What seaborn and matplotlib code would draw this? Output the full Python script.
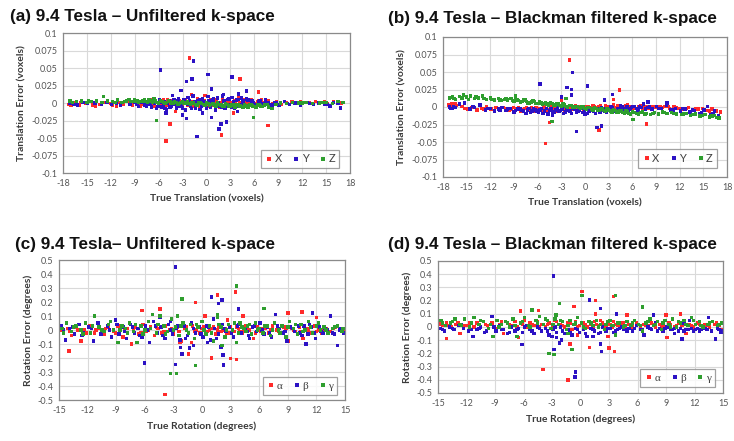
import pandas as pd
import seaborn as sns
import matplotlib.pyplot as plt

# ---- (a) translation, unfiltered : (true translation, error) in voxels
a_X = [(-17.3,-0.002),(-17.0,-0.003),(-16.7,-0.002),(-16.4,0.000),(-15.8,0.001),(-15.2,-0.001),(-14.3,-0.003),(-13.9,-0.004),
       (-13.4,-0.002),(-12.6,0.001),(-11.8,-0.003),(-11.3,-0.004),(-10.9,0.001),(-10.4,-0.002),(-9.8,0.002),(-9.3,-0.003),
       (-8.9,0.001),(-8.3,-0.004),(-7.9,0.003),(-7.5,-0.002),(-7.1,0.004),(-6.7,-0.003),(-6.4,0.002),(-6.0,-0.005),
       (-5.6,0.003),(-5.2,-0.001),(-4.9,0.004),(-4.5,-0.004),(-4.1,0.002),(-3.8,-0.006),(-3.4,0.003),(-3.0,-0.002),
       (-2.7,0.005),(-2.3,-0.003),(-1.9,0.002),(-1.5,-0.005),(-1.1,0.006),(-0.7,-0.002),(-0.3,0.003),(0.1,-0.004),
       (0.5,0.005),(0.9,-0.003),(1.2,0.002),(1.6,-0.006),(2.0,0.004),(2.4,-0.002),(2.8,0.006),(3.2,-0.004),
       (3.6,0.003),(4.0,0.007),(4.4,-0.003),(4.8,0.004),(5.2,-0.001),(5.6,0.005),(6.0,-0.003),(6.4,0.002),
       (6.9,0.004),(7.3,-0.002),(7.8,0.003),(8.3,-0.001),(8.8,0.002),(9.4,-0.002),(10.0,0.001),(10.7,0.002),
       (11.4,-0.001),(12.2,0.001),(12.9,0.000),(13.7,0.002),(14.5,0.001),(15.1,-0.001),(15.9,0.002),(16.6,0.000),
       (17.1,0.001),(-2.1,0.064),(4.2,0.034),(6.5,0.016),(-4.6,-0.030),(-5.1,-0.054),(1.9,-0.046),(7.7,-0.032),
       (-1.9,0.012),(-0.2,0.011),(3.4,-0.014),(-3.9,-0.012)]
a_X_more = [(-8.6,0.000),(-8.1,-0.002),(-7.7,0.001),(-7.3,0.002),(-6.9,-0.001),(-6.5,-0.004),(-6.1,0.001),(-5.8,-0.002),
            (-5.4,0.004),(-5.0,-0.003),(-4.7,0.001),(-4.3,0.003),(-3.9,-0.001),(-3.6,0.002),(-3.2,-0.004),(-2.8,0.001),
            (-2.5,-0.001),(-2.1,0.003),(-1.7,-0.003),(-1.3,0.001),(-0.9,-0.004),(-0.5,0.004),(-0.1,0.000),(0.3,-0.002),
            (0.7,0.002),(1.0,0.004),(1.4,-0.001),(1.8,0.001),(2.2,-0.004),(2.6,0.003),(3.0,0.001),(3.4,-0.002),
            (3.8,0.005),(4.2,0.001),(4.6,-0.002),(5.0,0.002),(5.4,0.005),(5.8,0.001),(6.2,-0.001),(6.6,0.003),
            (7.1,0.001),(7.6,0.002),(8.1,-0.002),(-16.0,-0.003),(-12.0,-0.001),(11.8,0.002),(14.8,0.002),(16.9,-0.001)]
a_Y = [(-17.2,-0.001),(-16.9,0.000),(-16.6,-0.002),(-16.2,-0.003),(-15.5,0.001),(-14.9,-0.001),(-14.0,0.000),(-13.2,-0.002),
       (-12.5,0.001),(-11.9,-0.002),(-11.3,0.000),(-10.8,-0.003),(-10.2,0.002),(-9.6,-0.002),(-9.0,0.001),(-8.5,-0.005),
       (-8.0,0.003),(-7.5,-0.004),(-7.1,-0.002),(-6.6,0.002),(-6.3,-0.008),(-5.9,0.004),(-5.6,-0.006),(-5.3,0.002),
       (-5.0,-0.010),(-4.7,0.003),(-4.4,-0.004),(-4.1,0.005),(-3.8,-0.008),(-3.5,0.006),(-3.2,-0.005),(-2.9,0.002),
       (-2.6,-0.010),(-2.3,0.008),(-2.0,-0.004),(-1.7,0.010),(-1.4,-0.007),(-1.1,0.003),(-0.8,-0.009),(-0.5,0.006),
       (-0.2,-0.003),(0.2,0.009),(0.5,-0.006),(0.8,0.004),(1.1,-0.010),(1.4,0.007),(1.7,-0.004),(2.0,0.010),
       (2.3,-0.007),(2.6,0.005),(2.9,-0.003),(3.2,0.008),(3.5,-0.008),(3.8,0.004),(4.1,-0.005),(4.4,0.007),
       (4.7,-0.002),(5.0,0.006),(5.3,-0.006),(5.7,0.003),(6.1,-0.004),(6.5,0.002),(6.9,-0.003),(7.4,0.004),
       (7.9,-0.002),(8.5,0.001),(9.1,-0.003),(9.8,0.002),(10.4,-0.002),(11.1,0.000),(11.8,-0.003),(12.6,0.001),
       (13.4,-0.002),(14.1,0.000),(14.8,-0.002),(15.5,-0.004),(15.9,0.001),(16.5,-0.001),(16.8,-0.007),
       (-5.75,0.047),(-1.65,0.060),(-2.5,0.031),(-1.8,0.034),(0.2,0.041),(3.2,0.037),(-3.2,0.018),(0.6,0.020),
       (5.0,0.017),(-1.2,-0.048),(1.55,-0.037),(1.8,-0.030),(2.5,-0.027),(0.65,-0.021),(-2.5,-0.022),(-3.0,-0.017),
       (-5.1,-0.014),(-4.3,0.011),(2.1,0.012),(4.0,0.013),(-0.5,-0.014),(3.9,-0.012)]
a_Y_more = [(-8.7,-0.002),(-8.2,0.001),(-7.8,-0.003),(-7.3,0.001),(-6.9,-0.006),(-6.5,-0.001),(-6.1,-0.005),(-5.8,0.001),
            (-5.4,-0.003),(-5.2,-0.008),(-4.9,0.000),(-4.6,-0.006),(-4.2,-0.002),(-3.9,0.003),(-3.7,-0.004),(-3.3,0.000),
            (-3.0,-0.007),(-2.8,0.004),(-2.4,-0.002),(-2.1,0.003),(-1.9,-0.008),(-1.5,0.002),(-1.2,-0.002),(-0.9,0.004),
            (-0.6,-0.005),(-0.3,0.002),(0.0,-0.007),(0.3,0.003),(0.6,-0.002),(0.9,0.006),(1.2,-0.004),(1.5,0.001),
            (1.9,-0.006),(2.2,0.003),(2.5,-0.004),(2.8,0.006),(3.1,-0.006),(3.4,0.002),(3.7,-0.002),(4.0,0.005),
            (4.3,-0.003),(4.6,0.003),(4.9,-0.004),(5.2,0.004),(5.5,-0.002),(5.9,0.000),(6.3,-0.002),(6.7,0.003),
            (7.2,-0.001),(7.7,0.001),(8.2,-0.003),(8.8,0.000),(10.1,-0.001),(13.0,-0.001),(15.2,-0.002)]
a_Z = [(-17.1,0.003),(-16.8,0.001),(-16.3,0.002),(-15.7,0.003),(-15.0,0.001),(-14.4,0.002),(-13.8,0.003),(-13.1,0.001),
       (-12.4,0.003),(-11.8,0.002),(-11.2,0.004),(-10.6,0.001),(-10.0,0.003),(-9.5,0.002),(-9.0,0.004),(-8.5,0.001),
       (-8.0,0.003),(-7.6,0.002),(-7.2,0.004),(-6.8,0.001),(-6.4,0.003),(-6.0,0.000),(-5.6,0.002),(-5.2,-0.001),
       (-4.8,0.003),(-4.4,0.000),(-4.0,0.002),(-3.6,-0.002),(-3.2,0.001),(-2.8,-0.001),(-2.4,0.002),(-2.0,-0.002),
       (-1.6,0.000),(-1.2,-0.003),(-0.8,0.001),(-0.4,-0.002),(0.0,0.000),(0.4,-0.003),(0.8,-0.001),(1.2,-0.004),
       (1.6,-0.002),(2.0,-0.005),(2.4,-0.001),(2.8,-0.004),(3.2,-0.002),(3.6,-0.006),(4.0,-0.003),(4.4,-0.005),
       (4.8,-0.002),(5.2,-0.006),(5.6,-0.003),(6.0,-0.005),(6.4,-0.002),(6.8,-0.004),(7.3,-0.003),(7.8,-0.006),
       (8.2,-0.008),(8.7,-0.002),(9.3,0.000),(10.0,-0.001),(10.8,0.001),(11.6,0.000),(12.5,0.001),(13.3,-0.001),
       (14.2,0.000),(15.0,0.001),(15.8,-0.001),(16.5,0.002),(17.1,0.001),
       (-12.9,0.009),(-6.3,-0.025),(5.9,-0.021),(-9.7,0.005),(-6.6,0.006)]
a_Z_more = [(-9.2,0.002),(-8.7,0.003),(-8.2,0.002),(-7.8,0.004),(-7.4,0.001),(-7.0,0.003),(-6.6,0.002),(-6.2,0.001),
            (-5.8,0.003),(-5.4,0.001),(-5.0,0.001),(-4.6,0.002),(-4.2,-0.001),(-3.8,0.001),(-3.4,-0.001),(-3.0,0.002),
            (-2.6,0.000),(-2.2,-0.001),(-1.8,0.001),(-1.4,-0.002),(-1.0,0.000),(-0.6,-0.001),(-0.2,-0.003),(0.2,-0.001),
            (0.6,-0.002),(1.0,-0.003),(1.4,0.000),(1.8,-0.003),(2.2,-0.004),(2.6,-0.002),(3.0,-0.005),(3.4,-0.003),
            (3.8,-0.002),(4.2,-0.004),(4.6,-0.006),(5.0,-0.004),(5.4,-0.002),(5.8,-0.004),(6.2,-0.006),(6.6,-0.003),
            (7.0,-0.005),(7.6,-0.002),(-14.8,0.003),(-11.5,0.001),(-10.3,0.002),(12.0,0.000),(14.6,0.001)]

# ---- (b) translation, Blackman filtered
b_X = [(-17.3,0.003),(-17.1,0.001),(-16.9,0.004),(-16.6,-0.001),(-16.3,0.002),(-15.6,0.001),(-14.9,-0.003),(-14.3,-0.001),
       (-13.7,-0.004),(-13.1,-0.002),(-12.5,0.000),(-11.9,-0.003),(-11.3,-0.001),(-10.7,-0.004),(-10.1,-0.002),(-9.6,-0.005),
       (-9.1,-0.001),(-8.6,-0.003),(-8.1,-0.006),(-7.6,-0.002),(-7.2,-0.004),(-6.8,-0.001),(-6.4,-0.005),(-6.0,-0.002),
       (-5.6,-0.004),(-5.2,0.000),(-4.8,-0.006),(-4.4,-0.002),(-4.0,-0.004),(-3.6,-0.001),(-3.2,-0.005),(-2.8,-0.002),
       (-2.4,0.001),(-2.0,-0.004),(-1.6,-0.001),(-1.2,0.002),(-0.8,-0.003),(-0.4,0.000),(0.0,-0.002),(0.4,0.001),
       (0.8,-0.004),(1.2,0.000),(1.6,-0.002),(2.0,0.002),(2.4,-0.003),(2.8,0.000),(3.2,-0.002),(3.6,0.003),
       (4.0,-0.001),(4.4,0.001),(4.8,-0.003),(5.2,0.002),(5.6,-0.001),(6.0,0.001),(6.5,-0.002),(7.0,0.002),
       (7.5,0.000),(8.0,-0.002),(8.5,0.001),(9.0,-0.001),(9.5,0.000),(10.1,0.001),(10.7,-0.002),(11.3,0.000),
       (11.9,-0.002),(12.5,-0.003),(13.1,-0.001),(13.7,-0.004),(14.3,-0.003),(14.9,-0.002),(15.5,-0.005),(16.1,-0.003),
       (16.7,-0.006),(17.2,-0.007),
       (-2.0,0.067),(4.35,0.024),(-4.5,-0.022),(-5.0,-0.052),(1.8,-0.033),(7.8,-0.024),(-3.0,0.009),(3.6,0.011)]
b_X_more = [(-16.5,0.004),(-15.3,-0.002),(-12.8,-0.003),(-10.4,-0.001),(-9.3,-0.003),(-8.4,-0.001),(-7.9,-0.004),(-7.4,-0.001),
            (-6.9,-0.003),(-6.6,-0.006),(-6.2,-0.001),(-5.8,-0.003),(-5.4,-0.005),(-5.0,-0.002),(-4.6,-0.004),(-4.2,0.000),
            (-3.8,-0.003),(-3.4,-0.006),(-3.0,-0.002),(-2.6,-0.004),(-2.2,-0.001),(-1.8,-0.003),(-1.4,0.000),(-1.0,-0.002),
            (-0.6,0.001),(-0.2,-0.003),(0.2,0.000),(0.6,-0.002),(1.0,0.002),(1.4,-0.001),(1.8,0.001),(2.2,-0.002),
            (2.6,0.002),(3.0,-0.001),(3.4,0.001),(3.8,-0.002),(4.2,0.002),(4.6,-0.001),(5.0,0.001),(5.4,0.003),
            (5.8,0.000),(6.2,-0.002),(6.8,0.001),(7.3,-0.002),(7.8,0.001),(8.3,-0.001),(8.8,0.001),(9.8,-0.001),
            (10.5,0.001),(11.6,-0.001),(12.8,-0.002),(14.0,-0.002),(15.8,-0.006)]
b_Y = [(-17.2,0.000),(-17.0,-0.002),(-16.7,0.001),(-16.4,-0.001),(-15.9,0.004),(-15.3,0.006),(-14.6,-0.003),(-14.0,-0.001),
       (-13.3,0.003),(-12.6,-0.004),(-12.0,-0.002),(-11.5,-0.006),(-11.0,-0.003),(-10.5,-0.001),(-10.0,-0.005),(-9.5,-0.002),
       (-9.0,-0.007),(-8.5,-0.003),(-8.0,-0.005),(-7.5,-0.009),(-7.1,-0.002),(-6.7,-0.006),(-6.3,-0.004),(-5.9,-0.008),
       (-5.5,-0.002),(-5.1,-0.006),(-4.7,-0.010),(-4.3,-0.003),(-3.9,-0.007),(-3.5,-0.001),(-3.1,-0.005),(-2.7,-0.009),
       (-2.3,-0.003),(-1.9,-0.006),(-1.5,-0.002),(-1.1,-0.007),(-0.7,-0.004),(-0.3,-0.008),(0.1,-0.003),(0.5,-0.006),
       (0.9,-0.002),(1.3,-0.009),(1.7,-0.004),(2.1,-0.001),(2.5,-0.006),(2.9,-0.003),(3.3,0.001),(3.7,-0.005),
       (4.1,-0.002),(4.5,0.002),(4.9,-0.004),(5.3,0.000),(5.7,-0.003),(6.1,0.001),(6.5,-0.002),(6.9,0.000),
       (7.4,0.004),(7.9,-0.001),(8.5,-0.003),(9.1,0.001),(9.7,-0.002),(10.3,0.003),(10.9,-0.004),(11.5,-0.002),
       (12.1,-0.006),(12.7,-0.003),(13.3,-0.007),(13.9,-0.005),(14.5,-0.009),(15.1,-0.004),(15.5,0.001),(15.9,-0.011),
       (16.4,-0.006),(16.9,-0.012),
       (-5.7,0.033),(-1.6,0.049),(-2.3,0.028),(-1.7,0.025),(0.3,0.030),(3.5,0.018),(-1.7,0.017),(-1.1,-0.035),
       (1.5,-0.029),(2.1,-0.027),(-3.0,0.014),(0.0,-0.011),(2.5,0.010),(-4.1,-0.012),(10.4,0.006),(8.0,0.007)]
b_Y_more = [(-16.8,-0.002),(-14.2,0.001),(-12.3,-0.002),(-10.8,-0.005),(-9.8,-0.003),(-8.8,-0.005),(-8.2,-0.002),(-7.8,-0.006),
            (-7.3,-0.004),(-6.9,-0.008),(-6.5,-0.003),(-6.1,-0.006),(-5.7,-0.004),(-5.3,-0.009),(-4.9,-0.002),(-4.5,-0.005),
            (-4.1,-0.008),(-3.7,-0.004),(-3.3,-0.006),(-2.9,-0.003),(-2.5,-0.007),(-2.1,-0.005),(-1.7,-0.009),(-1.3,-0.003),
            (-0.9,-0.006),(-0.5,-0.002),(-0.1,-0.006),(0.3,-0.009),(0.7,-0.004),(1.1,-0.006),(1.5,-0.002),(1.9,-0.007),
            (2.3,-0.003),(2.7,-0.008),(3.1,-0.004),(3.5,-0.001),(3.9,-0.006),(4.3,-0.003),(4.7,0.000),(5.1,-0.002),
            (5.5,-0.005),(5.9,-0.001),(6.3,0.001),(6.7,-0.004),(7.1,-0.001),(7.7,-0.003),(8.2,0.000),(9.4,-0.002),
            (11.2,-0.004),(12.4,-0.002),(13.6,-0.004),(14.8,-0.008),(16.2,-0.009)]
b_Z = [(-17.2,0.013),(-16.8,0.014),(-16.4,0.011),(-15.9,0.015),(-15.4,0.017),(-15.0,0.014),(-14.5,0.016),(-14.0,0.012),
       (-13.5,0.013),(-13.0,0.016),(-12.5,0.011),(-12.0,0.013),(-11.5,0.010),(-11.0,0.012),(-10.6,0.009),(-10.2,0.011),
       (-9.8,0.010),(-9.4,0.012),(-9.0,0.008),(-8.6,0.010),(-8.2,0.007),(-7.8,0.011),(-7.4,0.008),(-7.0,0.006),
       (-6.6,0.009),(-6.2,0.005),(-5.8,0.007),(-5.4,0.004),(-5.0,0.006),(-4.6,0.003),(-4.2,0.005),(-3.8,0.002),
       (-3.4,0.004),(-3.0,0.001),(-2.6,0.003),(-2.2,0.000),(-1.8,0.002),(-1.4,-0.001),(-1.0,0.001),(-0.6,-0.002),
       (-0.2,0.000),(0.2,-0.003),(0.6,-0.001),(1.0,-0.004),(1.4,-0.002),(1.8,-0.005),(2.2,-0.003),(2.6,-0.006),
       (3.0,-0.004),(3.4,-0.007),(3.8,-0.005),(4.2,-0.008),(4.6,-0.006),(5.0,-0.009),(5.4,-0.007),(5.8,-0.010),
       (6.3,-0.008),(6.8,-0.010),(7.3,-0.007),(7.8,-0.009),(8.3,-0.011),(8.8,-0.008),(9.3,-0.010),(9.8,-0.007),
       (10.4,-0.009),(11.0,-0.008),(11.6,-0.010),(12.2,-0.011),(12.8,-0.009),(13.4,-0.012),(14.0,-0.010),(14.6,-0.013),
       (15.2,-0.011),(15.8,-0.014),(16.4,-0.012),(17.0,-0.016),
       (-4.2,-0.021),(6.1,-0.018),(-2.4,0.012),(-8.8,0.016)]
b_Z_more = [(-16.6,0.012),(-15.6,0.013),(-14.8,0.011),(-13.8,0.014),(-12.8,0.012),(-11.8,0.011),(-10.8,0.010),(-10.0,0.012),
            (-9.2,0.009),(-8.8,0.011),(-8.4,0.009),(-8.0,0.008),(-7.6,0.010),(-7.2,0.006),(-6.8,0.007),(-6.4,0.008),
            (-6.0,0.005),(-5.6,0.006),(-5.2,0.005),(-4.8,0.004),(-4.4,0.006),(-4.0,0.003),(-3.6,0.004),(-3.2,0.002),
            (-2.8,0.004),(-2.4,0.001),(-2.0,0.002),(-1.6,0.000),(-1.2,0.001),(-0.8,-0.001),(-0.4,0.001),(0.0,-0.002),
            (0.4,-0.001),(0.8,-0.003),(1.2,-0.001),(1.6,-0.004),(2.0,-0.002),(2.4,-0.005),(2.8,-0.003),(3.2,-0.006),
            (3.6,-0.004),(4.0,-0.007),(4.4,-0.005),(4.8,-0.008),(5.2,-0.006),(5.6,-0.009),(6.0,-0.007),(6.6,-0.009),
            (7.1,-0.008),(7.6,-0.010),(8.6,-0.009),(10.1,-0.008),(11.3,-0.009),(12.5,-0.010),(13.7,-0.011),(14.9,-0.012),
            (16.1,-0.013),(16.7,-0.015)]

# ---- (c) rotation, unfiltered : (true rotation, error) in degrees
c_alpha = [(-14.9,0.00),(-14.5,-0.02),(-14.1,0.01),(-13.7,-0.04),(-13.2,0.02),(-12.7,-0.08),(-12.3,0.00),(-11.8,0.03),
           (-11.3,-0.02),(-10.8,0.01),(-10.3,-0.03),(-9.8,0.02),(-9.3,-0.01),(-8.8,0.03),(-8.3,-0.05),(-7.8,0.01),
           (-7.4,-0.10),(-7.0,0.02),(-6.6,-0.03),(-6.2,0.04),(-5.8,-0.01),(-5.4,0.02),(-5.0,-0.04),(-4.6,0.01),
           (-4.2,-0.02),(-3.8,0.03),(-3.4,0.00),(-3.0,-0.03),(-2.6,0.02),(-2.2,-0.08),(-1.8,0.01),(-1.4,-0.02),
           (-1.0,0.03),(-0.6,0.00),(-0.2,-0.02),(0.2,0.02),(0.6,-0.01),(1.0,0.01),(1.4,-0.03),(1.8,0.03),
           (2.2,0.00),(2.6,-0.02),(3.0,0.02),(3.4,-0.01),(3.8,0.01),(4.2,-0.02),(4.6,0.03),(5.0,0.00),
           (5.4,-0.06),(5.8,0.02),(6.2,-0.01),(6.6,0.01),(7.0,-0.02),(7.4,0.03),(7.8,0.00),(8.2,-0.02),
           (8.6,0.02),(9.0,-0.08),(9.4,0.01),(9.8,-0.01),(10.2,0.02),(10.6,-0.06),(11.0,0.01),(11.4,-0.02),
           (11.8,0.03),(12.2,0.00),(12.6,-0.02),(13.0,0.01),(13.5,-0.01),(14.0,0.02),(14.5,0.00),(14.9,-0.01),
           (3.5,0.27),(1.6,0.25),(-0.7,0.195),(-6.3,0.14),(-4.4,0.15),(-13.95,-0.15),(-3.9,-0.46),(1.0,-0.20),
           (3.0,-0.205),(3.6,-0.21),(-1.4,-0.17),(-1.1,-0.09),(10.5,0.13),(9.0,0.12),(4.3,0.10),(0.3,0.10),
           (-2.3,-0.09),(2.7,0.07),(12.0,0.09)]
c_alpha_more = [(-14.7,0.01),(-13.9,-0.01),(-13.0,0.00),(-12.1,-0.02),(-11.1,0.00),(-10.1,0.01),(-9.1,-0.02),(-8.1,0.00),
                (-7.2,0.01),(-6.4,-0.02),(-5.6,0.00),(-4.8,0.02),(-4.0,-0.01),(-3.2,0.01),(-2.4,-0.01),(-1.6,0.02),
                (-0.8,-0.01),(0.0,0.01),(0.4,-0.02),(0.8,0.00),(1.2,0.02),(1.6,0.00),(2.0,-0.01),(2.4,0.01),
                (2.8,-0.02),(3.2,0.00),(3.6,0.02),(4.0,-0.01),(4.4,0.00),(4.8,0.01),(5.6,-0.02),(6.4,0.01),
                (7.2,0.00),(8.0,-0.01),(8.8,0.01),(9.6,0.00),(10.4,-0.01),(11.2,0.00),(12.0,-0.01),(12.8,0.00),
                (13.8,0.01),(14.7,0.00)]
c_beta = [(-14.8,0.03),(-14.3,-0.07),(-13.9,0.01),(-13.4,-0.03),(-12.9,0.04),(-12.4,-0.02),(-11.9,0.02),(-11.4,-0.08),
          (-10.9,0.05),(-10.4,-0.01),(-9.9,0.03),(-9.5,-0.05),(-9.1,0.07),(-8.7,-0.03),(-8.3,0.02),(-7.9,-0.06),
          (-7.5,0.04),(-7.1,-0.02),(-6.7,0.01),(-6.3,-0.05),(-5.9,0.03),(-5.5,-0.09),(-5.1,0.06),(-4.7,-0.02),
          (-4.3,0.02),(-3.9,-0.06),(-3.5,0.04),(-3.1,-0.03),(-2.7,0.01),(-2.3,-0.07),(-1.9,0.03),(-1.5,-0.04),
          (-1.1,0.05),(-0.7,-0.02),(-0.3,0.02),(0.1,-0.05),(0.5,0.03),(0.9,-0.07),(1.3,0.01),(1.7,-0.03),
          (2.1,0.04),(2.5,-0.01),(2.9,0.02),(3.3,-0.05),(3.7,0.03),(4.1,-0.02),(4.5,0.01),(4.9,-0.04),
          (5.3,0.02),(5.7,-0.01),(6.1,0.05),(6.5,-0.03),(6.9,0.02),(7.3,-0.05),(7.7,0.11),(8.1,0.01),
          (8.5,-0.02),(8.9,-0.08),(9.3,0.02),(9.7,-0.01),(10.1,0.03),(10.5,-0.04),(10.9,-0.10),(11.3,0.04),
          (11.6,0.12),(11.9,-0.06),(12.3,0.02),(12.7,-0.02),(13.1,0.00),(13.5,0.10),(13.9,-0.03),(14.2,-0.11),
          (14.6,0.01),(14.9,-0.02),
          (-2.75,0.45),(1.0,0.235),(2.1,0.215),(1.7,0.19),(3.8,0.15),(-6.05,-0.235),(-2.75,-0.245),(2.25,-0.25),
          (2.2,-0.18),(-2.1,-0.17),(-2.25,-0.125),(-1.3,-0.13),(0.55,-0.09),(-3.3,0.06),(1.2,0.08),(-0.9,-0.11),
          (2.0,-0.12),(-4.4,0.09),(5.0,-0.06)]
c_beta_more = [(-14.5,0.00),(-13.6,0.02),(-12.6,-0.04),(-11.6,0.01),(-10.6,-0.03),(-9.7,0.00),(-8.9,0.04),(-8.1,-0.01),
               (-7.3,0.02),(-6.5,-0.04),(-5.7,0.00),(-4.9,0.03),(-4.1,-0.04),(-3.3,0.00),(-2.5,0.03),(-1.7,-0.06),
               (-0.9,0.01),(-0.1,-0.03),(0.7,0.02),(1.5,-0.06),(2.3,0.01),(3.1,-0.02),(3.9,0.04),(4.7,-0.01),
               (5.5,0.03),(6.3,0.00),(7.1,-0.02),(7.9,0.03),(8.7,-0.01),(9.5,0.01),(10.3,-0.02),(10.7,0.03),
               (11.1,-0.03),(11.5,0.02),(11.8,-0.02),(12.1,0.03),(12.5,-0.01),(12.9,0.01),(13.7,-0.02),(14.4,0.00)]
c_gamma = [(-14.7,0.01),(-14.2,0.05),(-13.7,-0.01),(-13.2,0.03),(-12.7,0.00),(-12.2,0.05),(-11.7,-0.02),(-11.3,0.10),
           (-10.8,0.02),(-10.3,-0.01),(-9.8,0.04),(-9.3,0.00),(-8.8,-0.09),(-8.4,0.03),(-8.0,0.01),(-7.6,0.05),
           (-7.2,-0.01),(-6.8,-0.09),(-6.4,0.03),(-6.0,0.00),(-5.6,0.06),(-5.2,0.11),(-4.8,-0.02),(-4.4,0.10),
           (-4.0,0.03),(-3.6,-0.01),(-3.2,0.08),(-2.8,0.02),(-2.4,-0.04),(-2.0,0.05),(-1.6,0.00),(-1.2,0.04),
           (-0.8,-0.06),(-0.4,0.02),(0.0,0.06),(0.4,-0.03),(0.8,0.03),(1.2,-0.08),(1.6,0.11),(2.0,0.02),
           (2.4,-0.05),(2.8,0.04),(3.2,0.00),(3.6,-0.09),(4.0,0.05),(4.4,0.01),(4.8,0.03),(5.2,-0.03),
           (5.6,0.05),(6.0,0.01),(6.4,-0.02),(6.8,0.03),(7.2,-0.04),(7.6,0.05),(8.0,0.00),(8.4,0.03),
           (8.8,-0.05),(9.2,0.06),(9.6,0.01),(10.0,-0.03),(10.4,0.04),(10.8,0.00),(11.2,0.06),(11.6,-0.02),
           (12.0,0.03),(12.4,0.00),(12.8,0.02),(13.2,-0.02),(13.7,0.01),(14.2,0.03),(14.7,-0.01),
           (3.65,0.315),(-2.1,0.22),(-3.3,-0.31),(-2.7,-0.31),(-0.7,-0.255),(6.5,0.155),(1.6,0.09),(-2.6,0.10),
           (2.1,-0.11)]
c_gamma_more = [(-14.5,-0.02),(-13.5,0.02),(-12.5,-0.03),(-11.5,0.03),(-10.5,0.00),(-9.6,0.06),(-8.6,0.00),(-7.8,-0.02),
                (-7.0,0.04),(-6.2,-0.03),(-5.4,0.01),(-4.6,0.04),(-3.8,-0.03),(-3.0,0.00),(-2.2,0.03),(-1.4,-0.02),
                (-0.6,0.04),(0.2,0.00),(1.0,-0.02),(1.8,0.04),(2.6,0.00),(3.4,0.05),(3.8,-0.02),(4.2,0.02),
                (4.6,-0.01),(5.0,0.04),(5.8,0.00),(6.6,0.03),(7.4,0.00),(8.2,-0.02),(9.0,0.02),(9.8,0.04),
                (10.6,-0.01),(11.4,0.02),(12.2,0.05),(13.0,0.00),(13.9,0.02),(14.8,0.01)]

# ---- (d) rotation, Blackman filtered
d_alpha = [(-14.9,0.02),(-14.5,0.01),(-14.1,0.03),(-13.6,0.00),(-13.1,0.02),(-12.7,-0.05),(-12.2,0.01),(-11.7,0.03),
           (-11.2,0.00),(-10.7,0.02),(-10.2,0.04),(-9.8,0.01),(-9.3,0.03),(-8.9,-0.01),(-8.5,0.02),(-8.1,-0.05),
           (-7.7,0.03),(-7.3,0.01),(-6.9,0.04),(-6.5,-0.08),(-6.1,0.02),(-5.7,0.00),(-5.3,0.03),(-4.9,0.01),
           (-4.5,0.04),(-4.1,0.02),(-3.7,0.00),(-3.3,0.03),(-2.9,0.01),(-2.5,0.04),(-2.1,0.02),(-1.7,0.00),
           (-1.3,0.03),(-0.9,-0.02),(-0.5,0.04),(-0.1,0.01),(0.3,0.03),(0.7,0.00),(1.1,0.02),(1.5,0.04),
           (1.9,0.01),(2.3,0.03),(2.7,0.00),(3.1,0.02),(3.5,0.04),(3.9,0.01),(4.3,0.03),(4.7,0.00),
           (5.1,0.02),(5.5,0.01),(5.9,0.03),(6.3,0.00),(6.7,0.02),(7.1,0.01),(7.5,0.03),(7.9,0.00),
           (8.3,0.02),(8.7,0.01),(9.1,-0.08),(9.5,0.02),(9.9,0.00),(10.3,0.03),(10.7,0.01),(11.1,-0.05),
           (11.5,0.02),(11.9,0.00),(12.3,0.03),(12.7,0.01),(13.1,0.02),(13.6,0.00),(14.1,0.02),(14.6,0.01),
           (14.9,-0.02),
           (0.16,0.268),(3.5,0.23),(1.57,0.20),(-0.68,0.157),(-3.95,-0.32),(-1.3,-0.40),(0.95,-0.156),(3.0,-0.16),
           (3.6,-0.185),(-14.1,-0.085),(-4.4,0.125),(-6.3,0.12),(1.6,0.10),(4.9,0.09),(10.5,0.10),(9.0,0.09),
           (-1.1,-0.13),(2.9,-0.07),(-0.3,-0.06)]
d_alpha_more = [(-14.7,0.03),(-13.9,0.01),(-12.9,0.03),(-11.9,0.01),(-10.9,0.03),(-10.0,0.02),(-9.1,0.00),(-8.3,0.04),
                (-7.5,0.02),(-6.7,0.00),(-5.9,0.05),(-5.1,0.02),(-4.3,0.00),(-3.5,0.02),(-2.7,0.05),(-1.9,0.01),
                (-1.1,0.03),(-0.3,0.00),(0.5,0.02),(0.9,0.04),(1.3,0.00),(1.7,0.02),(2.1,0.05),(2.5,0.01),
                (2.9,0.03),(3.3,0.00),(3.7,0.02),(4.1,0.01),(4.5,0.03),(5.3,0.00),(6.1,0.02),(6.9,0.01),
                (7.7,0.02),(8.5,0.00),(9.3,0.03),(10.1,0.01),(10.9,0.04),(11.7,0.01),(12.5,0.02),(13.3,0.01),
                (14.3,0.03)]
d_beta = [(-14.8,-0.01),(-14.3,-0.03),(-13.8,0.00),(-13.3,-0.02),(-12.8,0.01),(-12.3,-0.01),(-11.8,-0.03),(-11.3,-0.07),
          (-10.9,-0.02),(-10.5,0.00),(-10.1,-0.04),(-9.7,-0.01),(-9.3,0.08),(-8.9,-0.03),(-8.5,0.01),(-8.1,-0.02),
          (-7.7,-0.05),(-7.3,0.00),(-6.9,-0.03),(-6.5,-0.01),(-6.1,-0.04),(-5.7,0.01),(-5.3,-0.02),(-4.9,-0.05),
          (-4.5,0.00),(-4.1,-0.03),(-3.7,-0.01),(-3.3,-0.06),(-2.9,-0.02),(-2.5,-0.04),(-2.1,0.00),(-1.7,-0.05),
          (-1.3,-0.02),(-0.9,-0.06),(-0.5,-0.01),(-0.1,-0.04),(0.3,-0.02),(0.7,-0.07),(1.1,-0.01),(1.5,-0.03),
          (1.9,-0.05),(2.3,0.00),(2.7,-0.03),(3.1,-0.01),(3.5,-0.04),(3.9,-0.02),(4.3,0.00),(4.7,-0.02),
          (5.1,-0.01),(5.5,-0.03),(5.9,0.01),(6.3,-0.02),(6.7,-0.06),(7.1,0.00),(7.5,-0.02),(7.9,0.03),
          (8.3,-0.01),(8.7,-0.03),(9.1,0.00),(9.5,-0.02),(9.9,-0.01),(10.3,-0.03),(10.7,-0.09),(11.1,-0.02),
          (11.5,0.05),(11.9,-0.03),(12.3,-0.01),(12.7,-0.02),(13.1,-0.01),(13.5,0.07),(13.8,-0.03),(14.2,-0.09),
          (14.6,-0.02),(14.9,-0.03),
          (-2.82,0.385),(0.97,0.205),(2.1,0.14),(3.8,0.10),(-6.16,-0.131),(-0.55,-0.34),(-0.6,-0.38),(-2.8,-0.17),
          (2.2,-0.184),(2.1,-0.13),(-2.2,-0.12),(-2.5,-0.08),(1.3,-0.07),(-3.0,-0.07),(-2.0,-0.10),(7.7,0.09),
          (10.9,0.03),(9.9,-0.05)]
d_beta_more = [(-14.5,-0.02),(-13.5,-0.01),(-12.5,0.02),(-11.5,-0.02),(-10.7,-0.01),(-9.9,-0.03),(-9.1,0.00),(-8.3,-0.02),
               (-7.5,-0.04),(-6.7,-0.02),(-5.9,0.00),(-5.1,-0.03),(-4.3,-0.01),(-3.5,-0.03),(-2.7,0.00),(-1.9,-0.03),
               (-1.1,-0.04),(-0.3,-0.02),(0.5,-0.05),(1.3,-0.02),(2.1,-0.04),(2.9,-0.01),(3.7,-0.03),(4.1,-0.01),
               (4.5,-0.02),(4.9,-0.03),(5.7,-0.01),(6.5,-0.02),(7.3,-0.01),(8.1,-0.03),(8.9,-0.01),(9.7,-0.02),
               (10.5,-0.01),(10.9,-0.03),(11.3,-0.02),(11.7,-0.01),(12.1,-0.02),(12.5,-0.03),(12.9,-0.01),(13.3,-0.02),
               (14.4,-0.01),(14.8,-0.04)]
d_gamma = [(-14.7,0.05),(-14.2,0.01),(-13.7,0.03),(-13.2,0.06),(-12.7,0.02),(-12.2,0.06),(-11.7,0.00),(-11.2,0.07),
           (-10.7,0.02),(-10.2,0.04),(-9.7,-0.01),(-9.2,-0.07),(-8.8,0.05),(-8.3,0.02),(-7.9,0.04),(-7.5,0.00),
           (-7.1,0.06),(-6.7,-0.07),(-6.3,0.03),(-5.9,0.07),(-5.5,0.01),(-5.1,0.13),(-4.7,0.05),(-4.3,0.08),
           (-3.9,0.02),(-3.5,0.05),(-3.1,-0.01),(-2.7,0.06),(-2.3,0.02),(-1.9,0.04),(-1.5,-0.02),(-1.1,0.05),
           (-0.7,0.02),(-0.3,0.07),(0.1,0.03),(0.5,-0.01),(0.9,0.04),(1.3,0.01),(1.7,0.05),(2.1,0.02),
           (2.5,-0.02),(2.9,0.04),(3.3,0.01),(3.7,-0.06),(4.1,0.03),(4.5,0.00),(4.9,0.04),(5.3,0.01),
           (5.7,0.05),(6.1,0.02),(6.5,-0.03),(6.9,0.03),(7.3,0.06),(7.7,0.01),(8.1,0.04),(8.5,-0.02),
           (8.9,0.05),(9.3,0.02),(9.7,0.06),(10.1,0.00),(10.5,0.03),(10.9,0.05),(11.3,0.01),(11.7,0.07),
           (12.1,0.02),(12.5,0.04),(12.9,0.00),(13.4,0.02),(13.9,0.04),(14.4,0.01),(14.9,0.03),
           (0.16,0.237),(3.7,0.24),(-2.2,0.18),(6.5,0.15),(-3.3,-0.20),(-2.8,-0.21),(-0.9,-0.17),(-2.6,0.09),
           (-1.3,-0.05)]
d_gamma_more = [(-14.5,0.03),(-13.5,0.04),(-12.5,0.01),(-11.5,0.03),(-10.5,0.05),(-9.5,0.02),(-8.6,0.00),(-7.7,0.03),
                (-6.9,0.01),(-6.1,0.04),(-5.3,0.00),(-4.5,0.03),(-3.7,0.06),(-2.9,0.02),(-2.1,0.05),(-1.3,0.01),
                (-0.5,0.03),(0.3,0.00),(1.1,0.03),(1.9,0.00),(2.7,0.02),(3.1,0.05),(3.5,0.01),(3.9,0.03),
                (4.7,0.01),(5.5,0.03),(6.3,0.01),(7.1,0.04),(7.9,0.02),(8.7,0.03),(9.5,0.00),(10.3,0.04),
                (11.1,0.02),(11.9,0.05),(12.7,0.01),(13.6,0.03),(14.6,0.02)]

trans_ticks = [-18, -15, -12, -9, -6, -3, 0, 3, 6, 9, 12, 15, 18]
rot_ticks = [-15, -12, -9, -6, -3, 0, 3, 6, 9, 12, 15]
trans_err_ticks = [-0.1, -0.075, -0.05, -0.025, 0, 0.025, 0.05, 0.075, 0.1]
trans_err_labels = ['-0.1', '-0.075', '-0.05', '-0.025', '0', '0.025', '0.05', '0.075', '0.1']
rot_err_ticks = [-0.5, -0.4, -0.3, -0.2, -0.1, 0, 0.1, 0.2, 0.3, 0.4, 0.5]
rot_err_labels = ['-0.5', '-0.4', '-0.3', '-0.2', '-0.1', '0', '0.1', '0.2', '0.3', '0.4', '0.5']

colors = ['#ff2a2a', '#2c12c4', '#2e9e2e']

sns.set_style('whitegrid')
plt.rcParams['font.family'] = ['Lato', 'DejaVu Sans']


def make_df(series, names):
    rows = []
    for pts, name in zip(series, names):
        for x, y in pts:
            rows.append({'pos': x, 'err': y, 'axis': name})
    return pd.DataFrame(rows)


def panel(box, series, names, xticks, yticks, ylabels, xlabel, ylabel, title, title_xy, legend_box, greek):
    W, H = 734, 441
    l, r, t, b = box
    ax = fig.add_axes([l / W, 1 - b / H, (r - l) / W, (b - t) / H])
    df = make_df(series, names)
    sns.scatterplot(data=df, x='pos', y='err', hue='axis', palette=dict(zip(names, colors)),
                    s=6, linewidth=0, marker='s', ax=ax)
    ax.set_xlim(xticks[0], xticks[-1])
    ax.set_ylim(yticks[0], yticks[-1])
    ax.set_xticks(xticks)
    ax.set_xticklabels([str(v) for v in xticks])
    ax.set_yticks(yticks)
    ax.set_yticklabels(ylabels)
    ax.tick_params(length=0, labelsize=6.5, labelcolor='#555555', pad=4)
    ax.grid(True, color='#d9d9d9', linewidth=0.8)
    for sp in ax.spines.values():
        sp.set_color('#8a8a8a')
        sp.set_linewidth(0.9)
    ax.set_xlabel(xlabel, fontsize=7.5, fontweight='bold', color='#3a3a3a', labelpad=5)
    ax.set_ylabel(ylabel, fontsize=7.5, fontweight='bold', color='#3a3a3a', labelpad=3)
    handles, labels = ax.get_legend_handles_labels()
    lx0, ly0, lx1, ly1 = legend_box
    fam = ['Liberation Serif'] if greek else ['Lato']
    leg = ax.legend(handles, labels, ncol=3, loc='center',
                    bbox_to_anchor=((lx0 + lx1) / 2 / W, 1 - (ly0 + ly1) / 2 / H),
                    bbox_transform=fig.transFigure, frameon=True, fancybox=False,
                    handletextpad=0.1, columnspacing=0.9, handlelength=0.8, markerscale=0.9,
                    borderpad=0.35, prop={'family': fam, 'size': 8})
    leg.get_frame().set_edgecolor('#8a8a8a')
    leg.get_frame().set_linewidth(0.9)
    for txt in leg.get_texts():
        txt.set_color('#404040')
    fig.text(title_xy[0] / W, 1 - title_xy[1] / H, title, fontsize=12.3, fontweight='bold',
             family='Liberation Sans', color='#111111', va='center', ha='left')
    return ax


fig = plt.figure(figsize=(7.34, 4.41), dpi=100)

panel((63, 350, 33, 173), [a_X + a_X_more, a_Y + a_Y_more, a_Z + a_Z_more], ['X', 'Y', 'Z'],
      trans_ticks, trans_err_ticks, trans_err_labels,
      'True Translation (voxels)', 'Translation Error (voxels)', '(a) 9.4 Tesla \u2013 Unfiltered k-space',
      (10, 17), (268, 151, 332, 167), False)
panel((443, 727, 37, 177), [b_X + b_X_more, b_Y + b_Y_more, b_Z + b_Z_more], ['X', 'Y', 'Z'],
      trans_ticks, trans_err_ticks, trans_err_labels,
      'True Translation (voxels)', 'Translation Error (voxels)', '(b) 9.4 Tesla \u2013 Blackman filtered k-space',
      (388, 18), (646, 150, 709, 167), False)
panel((59, 345, 260, 400), [c_alpha + c_alpha_more, c_beta + c_beta_more, c_gamma + c_gamma_more],
      ['\u03b1', '\u03b2', '\u03b3'], rot_ticks, rot_err_ticks, rot_err_labels,
      'True Rotation (degrees)', 'Rotation Error (degrees)', '(c) 9.4 Tesla\u2013 Unfiltered k-space',
      (15, 245), (268, 377, 332, 395), True)
panel((438, 723, 261, 393), [d_alpha + d_alpha_more, d_beta + d_beta_more, d_gamma + d_gamma_more],
      ['\u03b1', '\u03b2', '\u03b3'], rot_ticks, rot_err_ticks, rot_err_labels,
      'True Rotation (degrees)', 'Rotation Error (degrees)', '(d) 9.4 Tesla \u2013 Blackman filtered k-space',
      (388, 245), (646, 370, 709, 386), True)

fig.savefig('out.png', dpi=100)
